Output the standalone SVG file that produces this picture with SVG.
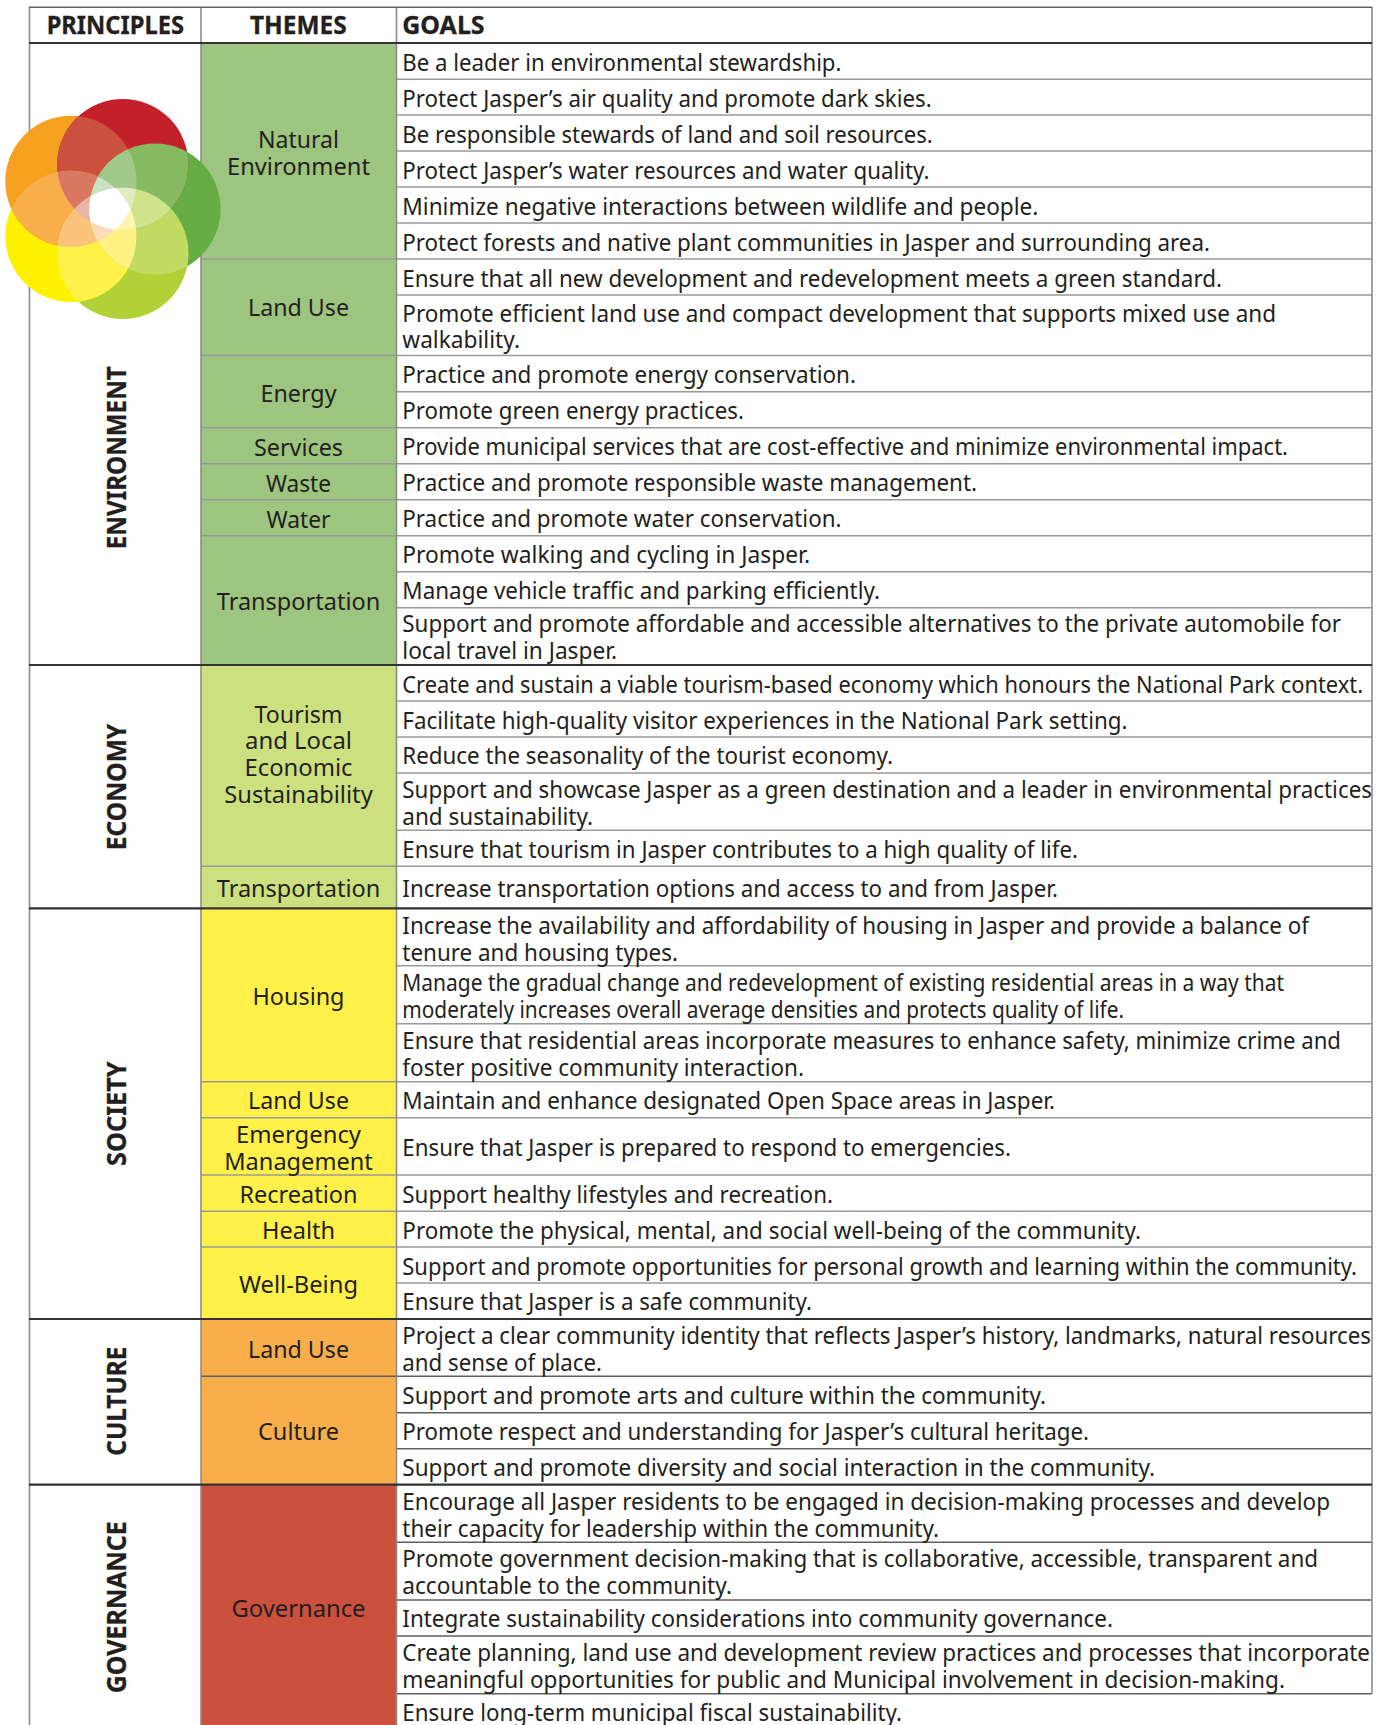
<svg xmlns="http://www.w3.org/2000/svg" width="1385" height="1725" viewBox="0 0 1385 1725">
<style>
text{font-family:"Noto Sans","Open Sans","Liberation Sans",sans-serif;font-size:24px;fill:#231f20}
.t{text-anchor:middle}
.h{font-weight:700;font-size:25px;stroke:#231f20;stroke-width:.3}
.p{font-size:27px;font-weight:700;text-anchor:middle;stroke:#231f20;stroke-width:.3}
.l1{stroke:#9a9a9a;stroke-width:1.6;fill:none}
.l2{stroke:#5f5f5f;stroke-width:1.4;fill:none}
.hv{stroke:#333;stroke-width:2.2;fill:none}
.v{stroke:#8c8c8c;stroke-width:1.6;fill:none}
</style>
<defs>
<clipPath id="cr"><circle cx="122.8" cy="164.5" r="65.6"/></clipPath>
<clipPath id="co"><circle cx="70.9" cy="181.4" r="65.6"/></clipPath>
<clipPath id="cy"><circle cx="70.9" cy="236.3" r="65.6"/></clipPath>
<clipPath id="cl"><circle cx="122.8" cy="253.4" r="65.6"/></clipPath>
<clipPath id="cg"><circle cx="155" cy="209" r="65.6"/></clipPath>
<rect id="a" width="240" height="340"/>
</defs>
<rect width="1385" height="1725" fill="#fff"/>
<g id="theme-fills">
<rect x="201" y="43" width="195.5" height="622" fill="#9dc580"/>
<rect x="201" y="665" width="195.5" height="243.3" fill="#cde07f"/>
<rect x="201" y="908.3" width="195.5" height="410.7" fill="#fff14a"/>
<rect x="201" y="1319" width="195.5" height="165.7" fill="#f8ae4a"/>
<rect x="201" y="1484.7" width="195.5" height="240.3" fill="#cc503e"/>
</g>
<g id="rules">
<path class="l1" d="M396.500 79.300H1372M396.500 115H1372M396.500 151H1372M396.500 187H1372M396.500 223H1372M396.500 259H1372M396.500 295H1372M396.500 355.500H1372M396.500 391.700H1372M396.500 427.700H1372M396.500 463.700H1372M396.500 499.700H1372M396.500 535.700H1372M396.500 571.700H1372M396.500 607.700H1372M396.500 701H1372M396.500 737H1372M396.500 773H1372M396.500 830.300H1372M396.500 866.300H1372M396.500 965.700H1372M396.500 1023.700H1372M396.500 1081.700H1372M396.500 1117.700H1372M396.500 1175H1372M396.500 1211.300H1372M396.500 1247H1372M396.500 1283H1372"/>
<path class="l2" d="M396.500 1376.300H1372M396.500 1412.800H1372M396.500 1448.700H1372M396.500 1542.300H1372M396.500 1600H1372M396.500 1636H1372M396.500 1693.700H1372"/>
<path class="l1" d="M201 259H396.500M201 355.500H396.500M201 427.700H396.500M201 463.700H396.500M201 499.700H396.500M201 535.700H396.500M201 866.300H396.500M201 1081.700H396.500M201 1117.700H396.500M201 1175H396.500M201 1211.300H396.500M201 1247H396.500"/>
<path class="l2" d="M201 1376.300H396.500"/>
<path class="v" d="M29.500 7V1725M201 7V1725M396.500 7V1725"/>
<path class="v" d="M1372 7V1693.700"/>
<path class="l2" d="M29 7.200H1372"/>
<path class="hv" d="M29 43H1372M29 665H1372M29 908.300H1372M29 1319H1372M29 1484.700H1372"/>
</g>
<g id="header">
<text class="h t" x="115.300" y="34.300" textLength="137.300" lengthAdjust="spacingAndGlyphs">PRINCIPLES</text>
<text class="h t" x="298.300" y="34.300" textLength="96.700" lengthAdjust="spacingAndGlyphs">THEMES</text>
<text class="h" x="402.300" y="34.300" textLength="82.300" lengthAdjust="spacingAndGlyphs">GOALS</text>
</g>
<g id="principles">
<g id="principle-environment"><text class="p" transform="translate(126 457.700) rotate(-90)" textLength="183" lengthAdjust="spacingAndGlyphs">ENVIRONMENT</text></g>
<g id="principle-economy"><text class="p" transform="translate(126 787) rotate(-90)" textLength="126.500" lengthAdjust="spacingAndGlyphs">ECONOMY</text></g>
<g id="principle-society"><text class="p" transform="translate(126 1113.700) rotate(-90)" textLength="104.500" lengthAdjust="spacingAndGlyphs">SOCIETY</text></g>
<g id="principle-culture"><text class="p" transform="translate(126 1401.200) rotate(-90)" textLength="109" lengthAdjust="spacingAndGlyphs">CULTURE</text></g>
<g id="principle-governance"><text class="p" transform="translate(126 1607.200) rotate(-90)" textLength="172" lengthAdjust="spacingAndGlyphs">GOVERNANCE</text></g>
</g>
<g id="themes">
<g id="theme-natural"><text class="t" x="298.500" y="147.700" textLength="81" lengthAdjust="spacingAndGlyphs">Natural</text><text class="t" x="298.500" y="175" textLength="143" lengthAdjust="spacingAndGlyphs">Environment</text></g>
<g id="theme-landuse1"><text class="t" x="298.500" y="315.700" textLength="101" lengthAdjust="spacingAndGlyphs">Land Use</text></g>
<g id="theme-energy"><text class="t" x="298.500" y="401.700" textLength="76" lengthAdjust="spacingAndGlyphs">Energy</text></g>
<g id="theme-services"><text class="t" x="298.500" y="456" textLength="89" lengthAdjust="spacingAndGlyphs">Services</text></g>
<g id="theme-waste"><text class="t" x="298.500" y="491.500" textLength="65" lengthAdjust="spacingAndGlyphs">Waste</text></g>
<g id="theme-water"><text class="t" x="298.500" y="528" textLength="64" lengthAdjust="spacingAndGlyphs">Water</text></g>
<g id="theme-transportation1"><text class="t" x="298.500" y="610" textLength="163.500" lengthAdjust="spacingAndGlyphs">Transportation</text></g>
<g id="theme-tourism"><text class="t" x="298.500" y="722.700" textLength="88" lengthAdjust="spacingAndGlyphs">Tourism</text><text class="t" x="298.500" y="748.700" textLength="107" lengthAdjust="spacingAndGlyphs">and Local</text><text class="t" x="298.500" y="775.700" textLength="108" lengthAdjust="spacingAndGlyphs">Economic</text><text class="t" x="298.500" y="802.700" textLength="148.500" lengthAdjust="spacingAndGlyphs">Sustainability</text></g>
<g id="theme-transportation2"><text class="t" x="298.500" y="897.300" textLength="163.500" lengthAdjust="spacingAndGlyphs">Transportation</text></g>
<g id="theme-housing"><text class="t" x="298.500" y="1005" textLength="92" lengthAdjust="spacingAndGlyphs">Housing</text></g>
<g id="theme-landuse2"><text class="t" x="298.500" y="1109.300" textLength="101" lengthAdjust="spacingAndGlyphs">Land Use</text></g>
<g id="theme-emergency"><text class="t" x="298.500" y="1143.300" textLength="125" lengthAdjust="spacingAndGlyphs">Emergency</text><text class="t" x="298.500" y="1170" textLength="148.500" lengthAdjust="spacingAndGlyphs">Management</text></g>
<g id="theme-recreation"><text class="t" x="298.500" y="1202.700" textLength="118" lengthAdjust="spacingAndGlyphs">Recreation</text></g>
<g id="theme-health"><text class="t" x="298.500" y="1239.300" textLength="73" lengthAdjust="spacingAndGlyphs">Health</text></g>
<g id="theme-wellbeing"><text class="t" x="298.500" y="1293" textLength="119" lengthAdjust="spacingAndGlyphs">Well-Being</text></g>
<g id="theme-landuse3"><text class="t" x="298.500" y="1358.300" textLength="101" lengthAdjust="spacingAndGlyphs">Land Use</text></g>
<g id="theme-culture"><text class="t" x="298.500" y="1440" textLength="81" lengthAdjust="spacingAndGlyphs">Culture</text></g>
<g id="theme-governance"><text class="t" x="298.500" y="1616.700" textLength="134" lengthAdjust="spacingAndGlyphs">Governance</text></g>
</g>
<g id="goals">
<text x="402.300" y="70.700" textLength="439.200" lengthAdjust="spacingAndGlyphs">Be a leader in environmental stewardship.</text>
<text x="402.300" y="106.700" textLength="529.400" lengthAdjust="spacingAndGlyphs">Protect Jasper’s air quality and promote dark skies.</text>
<text x="402.300" y="142.700" textLength="530.500" lengthAdjust="spacingAndGlyphs">Be responsible stewards of land and soil resources.</text>
<text x="402.300" y="178.700" textLength="527.200" lengthAdjust="spacingAndGlyphs">Protect Jasper’s water resources and water quality.</text>
<text x="402.300" y="214.700" textLength="636.100" lengthAdjust="spacingAndGlyphs">Minimize negative interactions between wildlife and people.</text>
<text x="402.300" y="250.700" textLength="807.700" lengthAdjust="spacingAndGlyphs">Protect forests and native plant communities in Jasper and surrounding area.</text>
<text x="402.300" y="286.700" textLength="819.700" lengthAdjust="spacingAndGlyphs">Ensure that all new development and redevelopment meets a green standard.</text>
<text x="402.300" y="321.700" textLength="873.700" lengthAdjust="spacingAndGlyphs">Promote efficient land use and compact development that supports mixed use and</text>
<text x="402.300" y="347.700" textLength="117.700" lengthAdjust="spacingAndGlyphs">walkability.</text>
<text x="402.300" y="383.300" textLength="453.700" lengthAdjust="spacingAndGlyphs">Practice and promote energy conservation.</text>
<text x="402.300" y="419.300" textLength="341.700" lengthAdjust="spacingAndGlyphs">Promote green energy practices.</text>
<text x="402.300" y="455.300" textLength="885.700" lengthAdjust="spacingAndGlyphs">Provide municipal services that are cost-effective and minimize environmental impact.</text>
<text x="402.300" y="491.300" textLength="574.700" lengthAdjust="spacingAndGlyphs">Practice and promote responsible waste management.</text>
<text x="402.300" y="527.300" textLength="439.200" lengthAdjust="spacingAndGlyphs">Practice and promote water conservation.</text>
<text x="402.300" y="563.300" textLength="407.700" lengthAdjust="spacingAndGlyphs">Promote walking and cycling in Jasper.</text>
<text x="402.300" y="599.300" textLength="477.700" lengthAdjust="spacingAndGlyphs">Manage vehicle traffic and parking efficiently.</text>
<text x="402.300" y="631.700" textLength="938.700" lengthAdjust="spacingAndGlyphs">Support and promote affordable and accessible alternatives to the private automobile for</text>
<text x="402.300" y="659.300" textLength="214.700" lengthAdjust="spacingAndGlyphs">local travel in Jasper.</text>
<text x="402.300" y="692.700" textLength="960.700" lengthAdjust="spacingAndGlyphs">Create and sustain a viable tourism-based economy which honours the National Park context.</text>
<text x="402.300" y="729.300" textLength="725.200" lengthAdjust="spacingAndGlyphs">Facilitate high-quality visitor experiences in the National Park setting.</text>
<text x="402.300" y="764" textLength="490.700" lengthAdjust="spacingAndGlyphs">Reduce the seasonality of the tourist economy.</text>
<text x="402.300" y="797.700" textLength="969.700" lengthAdjust="spacingAndGlyphs">Support and showcase Jasper as a green destination and a leader in environmental practices</text>
<text x="402.300" y="825" textLength="190.700" lengthAdjust="spacingAndGlyphs">and sustainability.</text>
<text x="402.300" y="857.700" textLength="675.700" lengthAdjust="spacingAndGlyphs">Ensure that tourism in Jasper contributes to a high quality of life.</text>
<text x="402.300" y="897.300" textLength="655.700" lengthAdjust="spacingAndGlyphs">Increase transportation options and access to and from Jasper.</text>
<text x="402.300" y="934.300" textLength="906.700" lengthAdjust="spacingAndGlyphs">Increase the availability and affordability of housing in Jasper and provide a balance of</text>
<text x="402.300" y="960.700" textLength="275.700" lengthAdjust="spacingAndGlyphs">tenure and housing types.</text>
<text x="402.300" y="991" textLength="881.700" lengthAdjust="spacingAndGlyphs">Manage the gradual change and redevelopment of existing residential areas in a way that</text>
<text x="402.300" y="1018.300" textLength="721.700" lengthAdjust="spacingAndGlyphs">moderately increases overall average densities and protects quality of life.</text>
<text x="402.300" y="1049" textLength="938.700" lengthAdjust="spacingAndGlyphs">Ensure that residential areas incorporate measures to enhance safety, minimize crime and</text>
<text x="402.300" y="1075.700" textLength="401.700" lengthAdjust="spacingAndGlyphs">foster positive community interaction.</text>
<text x="402.300" y="1109.300" textLength="652.700" lengthAdjust="spacingAndGlyphs">Maintain and enhance designated Open Space areas in Jasper.</text>
<text x="402.300" y="1155.700" textLength="608.700" lengthAdjust="spacingAndGlyphs">Ensure that Jasper is prepared to respond to emergencies.</text>
<text x="402.300" y="1202.700" textLength="430.700" lengthAdjust="spacingAndGlyphs">Support healthy lifestyles and recreation.</text>
<text x="402.300" y="1239.300" textLength="738.700" lengthAdjust="spacingAndGlyphs">Promote the physical, mental, and social well-being of the community.</text>
<text x="402.300" y="1274.700" textLength="954.700" lengthAdjust="spacingAndGlyphs">Support and promote opportunities for personal growth and learning within the community.</text>
<text x="402.300" y="1310.300" textLength="409.700" lengthAdjust="spacingAndGlyphs">Ensure that Jasper is a safe community.</text>
<text x="402.300" y="1344" textLength="968.700" lengthAdjust="spacingAndGlyphs">Project a clear community identity that reflects Jasper’s history, landmarks, natural resources</text>
<text x="402.300" y="1370.700" textLength="199.700" lengthAdjust="spacingAndGlyphs">and sense of place.</text>
<text x="402.300" y="1404.300" textLength="643.700" lengthAdjust="spacingAndGlyphs">Support and promote arts and culture within the community.</text>
<text x="402.300" y="1440.300" textLength="686.700" lengthAdjust="spacingAndGlyphs">Promote respect and understanding for Jasper’s cultural heritage.</text>
<text x="402.300" y="1476.300" textLength="752.700" lengthAdjust="spacingAndGlyphs">Support and promote diversity and social interaction in the community.</text>
<text x="402.300" y="1510" textLength="927.700" lengthAdjust="spacingAndGlyphs">Encourage all Jasper residents to be engaged in decision-making processes and develop</text>
<text x="402.300" y="1536.700" textLength="536.700" lengthAdjust="spacingAndGlyphs">their capacity for leadership within the community.</text>
<text x="402.300" y="1566.700" textLength="915.700" lengthAdjust="spacingAndGlyphs">Promote government decision-making that is collaborative, accessible, transparent and</text>
<text x="402.300" y="1594.300" textLength="329.700" lengthAdjust="spacingAndGlyphs">accountable to the community.</text>
<text x="402.300" y="1627.300" textLength="710.700" lengthAdjust="spacingAndGlyphs">Integrate sustainability considerations into community governance.</text>
<text x="402.300" y="1660.700" textLength="967.700" lengthAdjust="spacingAndGlyphs">Create planning, land use and development review practices and processes that incorporate</text>
<text x="402.300" y="1688.300" textLength="882.700" lengthAdjust="spacingAndGlyphs">meaningful opportunities for public and Municipal involvement in decision-making.</text>
<text x="402.300" y="1720.500" textLength="499.700" lengthAdjust="spacingAndGlyphs">Ensure long-term municipal fiscal sustainability.</text>
</g>
<g id="logo">
<circle cx="155" cy="209" r="65.6" fill="#65ac45"/>
<circle cx="122.8" cy="253.4" r="65.6" fill="#b1d236"/>
<circle cx="70.9" cy="236.3" r="65.6" fill="#fff200"/>
<circle cx="70.9" cy="181.4" r="65.6" fill="#f5a11f"/>
<circle cx="122.8" cy="164.5" r="65.6" fill="#c4202a"/>
<g clip-path="url(#cr)"><g clip-path="url(#co)"><use href="#a" fill="#cc503e"/></g></g>
<g clip-path="url(#co)"><g clip-path="url(#cy)"><use href="#a" fill="#f8ae4a"/></g></g>
<g clip-path="url(#cy)"><g clip-path="url(#cl)"><use href="#a" fill="#fff14a"/></g></g>
<g clip-path="url(#cl)"><g clip-path="url(#cg)"><use href="#a" fill="#c0da62"/></g></g>
<g clip-path="url(#cg)"><g clip-path="url(#cr)"><use href="#a" fill="#85ba60"/></g></g>
<g clip-path="url(#cg)"><g clip-path="url(#cr)"><g clip-path="url(#co)"><use href="#a" fill="#a0c88a"/></g></g></g>
<g clip-path="url(#cr)"><g clip-path="url(#co)"><g clip-path="url(#cy)"><use href="#a" fill="#da7760"/></g></g></g>
<g clip-path="url(#co)"><g clip-path="url(#cy)"><g clip-path="url(#cl)"><use href="#a" fill="#f9c47a"/></g></g></g>
<g clip-path="url(#cy)"><g clip-path="url(#cl)"><g clip-path="url(#cg)"><use href="#a" fill="#fff283"/></g></g></g>
<g clip-path="url(#cl)"><g clip-path="url(#cg)"><g clip-path="url(#cr)"><use href="#a" fill="#cfe28c"/></g></g></g>
<g clip-path="url(#cr)"><g clip-path="url(#co)"><g clip-path="url(#cy)"><g clip-path="url(#cg)"><use href="#a" fill="#c9e3c3"/></g></g></g></g>
<g clip-path="url(#cr)"><g clip-path="url(#co)"><g clip-path="url(#cy)"><g clip-path="url(#cl)"><use href="#a" fill="#e8b5a8"/></g></g></g></g>
<g clip-path="url(#co)"><g clip-path="url(#cy)"><g clip-path="url(#cl)"><g clip-path="url(#cg)"><use href="#a" fill="#faddb8"/></g></g></g></g>
<g clip-path="url(#cy)"><g clip-path="url(#cl)"><g clip-path="url(#cg)"><g clip-path="url(#cr)"><use href="#a" fill="#fff6ae"/></g></g></g></g>
<g clip-path="url(#cl)"><g clip-path="url(#cg)"><g clip-path="url(#cr)"><g clip-path="url(#co)"><use href="#a" fill="#e0ecc0"/></g></g></g></g>
<g clip-path="url(#cr)"><g clip-path="url(#co)"><g clip-path="url(#cy)"><g clip-path="url(#cl)"><g clip-path="url(#cg)"><use href="#a" fill="#fff"/></g></g></g></g></g>
</g>
</svg>
